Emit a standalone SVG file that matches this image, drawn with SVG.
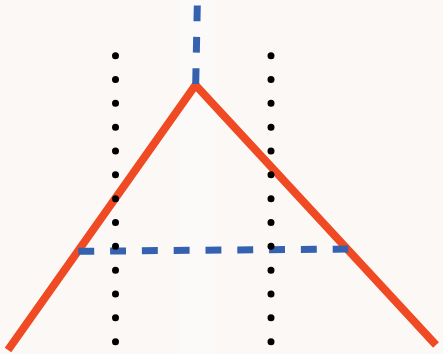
<svg xmlns="http://www.w3.org/2000/svg" width="443" height="354" viewBox="0 0 443 354">
<style>
.dots{stroke:#000;stroke-width:7;stroke-linecap:round;stroke-dasharray:0 23.83;fill:none}
.red{stroke:#f04a24;stroke-width:8;fill:none;stroke-linecap:butt}
.blue{stroke:#3461b0;stroke-width:7;fill:none;stroke-linecap:butt}
</style>
<rect width="443" height="354" fill="#fbf8f5"/>
<rect x="180" y="0" width="36" height="354" fill="#fdfcfb" opacity="0.5"/>
<g id="red-lines">
<polyline class="red" points="8,350 195.5,85 436,345" stroke-linejoin="miter"/>
</g>
<g id="blue-dashed">
<line class="blue" x1="197.3" y1="5.5" x2="195.7" y2="84" stroke-dasharray="15.7 15.7"/>
<line class="blue" x1="78.3" y1="251.3" x2="348.3" y2="249" stroke-dasharray="15.9 15.9"/>
</g>
<g id="dotted-lines">
<line class="dots" x1="115.5" y1="55.7" x2="115.5" y2="342"/>
<line class="dots" x1="271" y1="55.7" x2="271" y2="342"/>
</g>
</svg>
